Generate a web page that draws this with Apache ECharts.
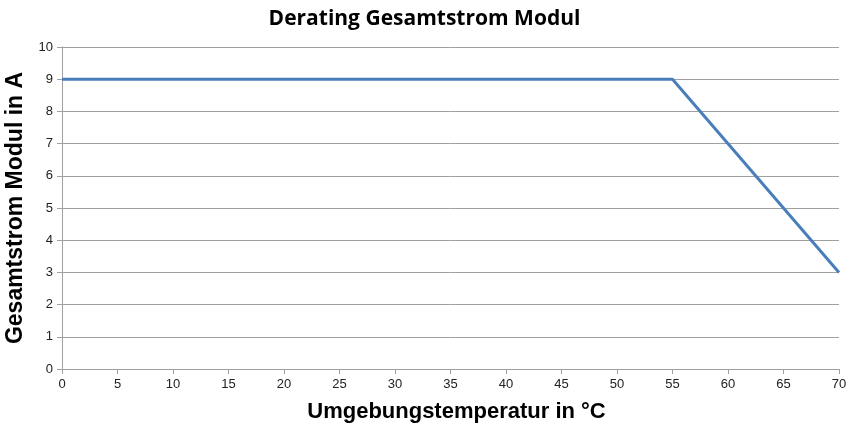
<!DOCTYPE html>
<html><head><meta charset="utf-8">
<script src="https://cdn.jsdelivr.net/npm/echarts@6/dist/echarts.min.js"></script>
<style>html,body{margin:0;padding:0;background:#fff}#c{width:849px;height:428px}</style>
</head><body><div id="c"></div>
<script>
const temperatures = [0, 55, 70];
const currents = [9, 9, 3];
const titleText = 'Derating Gesamtstrom Modul';
const xName = 'Umgebungstemperatur in °C';
const yName = 'Gesamtstrom Modul in A';

const chart = echarts.init(document.getElementById('c'));
chart.setOption({
  animation: false,
  title: {text: titleText, left: 'center', top: 4,
    textStyle: {fontFamily: 'Liberation Sans Narrow, Open Sans, sans-serif', fontWeight: 'bold', fontSize: 21, color: '#000'}},
  grid: {left: 62, right: 10, top: 47, bottom: 59, outerBoundsMode: 'none', containLabel: false},
  xAxis: {type: 'value', min: 0, max: 70, interval: 5,
    name: xName, nameLocation: 'middle', nameGap: 32,
    nameTextStyle: {fontFamily: 'Liberation Sans, Arial', fontWeight: 'bold', fontSize: 22, color: '#000', padding: [0, 0, 0, 12]},
    axisLine: {lineStyle: {color: '#a0a0a0'}},
    axisTick: {show: true, length: 5, lineStyle: {color: '#a0a0a0'}},
    axisLabel: {color: '#222', fontSize: 13, fontFamily: 'Liberation Sans, Arial', margin: 9},
    splitLine: {show: false}},
  yAxis: {type: 'value', min: 0, max: 10, interval: 1,
    name: yName, nameLocation: 'middle', nameGap: 27, nameRotate: 90,
    nameTextStyle: {fontFamily: 'Liberation Sans, Arial', fontWeight: 'bold', fontSize: 23, color: '#000'},
    axisLine: {show: true, lineStyle: {color: '#a0a0a0'}},
    axisTick: {show: true, length: 5, lineStyle: {color: '#a0a0a0'}},
    axisLabel: {color: '#222', fontSize: 13, fontFamily: 'Liberation Sans, Arial', margin: 9},
    splitLine: {lineStyle: {color: '#a0a0a0'}}},
  series: [{type: 'line', data: temperatures.map((t, i) => [t, currents[i]]),
    symbol: 'none', lineStyle: {color: '#4a7ebb', width: 3}}]
});
</script></body></html>
